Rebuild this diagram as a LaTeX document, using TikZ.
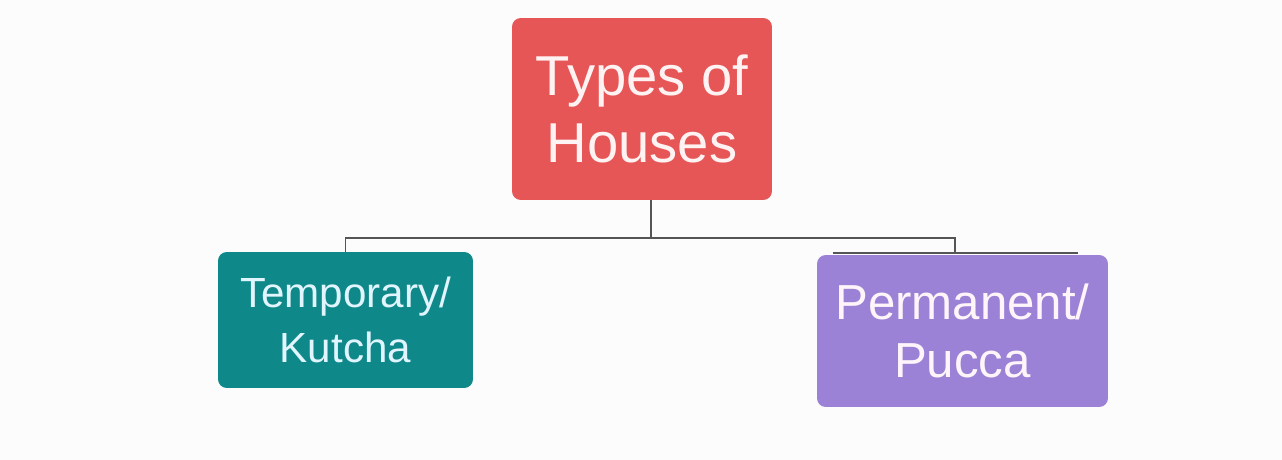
\documentclass[tikz,border=0pt]{standalone}
\usepackage{fontspec}
\setmainfont{Liberation Sans}
\usetikzlibrary{positioning}
\definecolor{housered}{RGB}{230,86,86}
\definecolor{kutchateal}{RGB}{15,136,138}
\definecolor{puccapurple}{RGB}{156,130,214}
\definecolor{linkgray}{RGB}{85,85,85}

\begin{document}
\begin{tikzpicture}[x=0.02cm,y=-0.02cm,
box/.style={rounded corners=5pt,align=center,inner sep=0pt},
link/.style={line width=1.1pt,draw=linkgray}]

\fill[white!98!gray](0,0)rectangle(1282,460);
\node[box,fill=housered,text=white!95!red,minimum width=5.2cm,minimum height=3.64cm,
font=\fontsize{32}{38}\selectfont] (root) at(642,109){Types of\\Houses};
\node[box,fill=kutchateal,text=cyan!12,minimum width=5.1cm,minimum height=2.72cm,
font=\fontsize{24}{31}\selectfont] (kutcha) at(345.5,320){Temporary/\\Kutcha};
\node[box,fill=puccapurple,text=white!96!magenta,minimum width=5.82cm,minimum height=3.04cm,
font=\fontsize{28}{33}\selectfont] (pucca) at(962.5,331){Permanent/\\Pucca};
\coordinate (fork) at(651,238);
\coordinate (rdrop) at(955,238);
\coordinate (rtop) at(955,253);
\draw[link](fork|-root.south)--(fork);
\draw[link](kutcha.north)|-(rdrop)--(rtop);
\draw[link,line width=.8pt]([xshift=.32cm]pucca.north west|-rtop)--([xshift=-.6cm]pucca.north east|-rtop);
\end{tikzpicture}
\end{document}
